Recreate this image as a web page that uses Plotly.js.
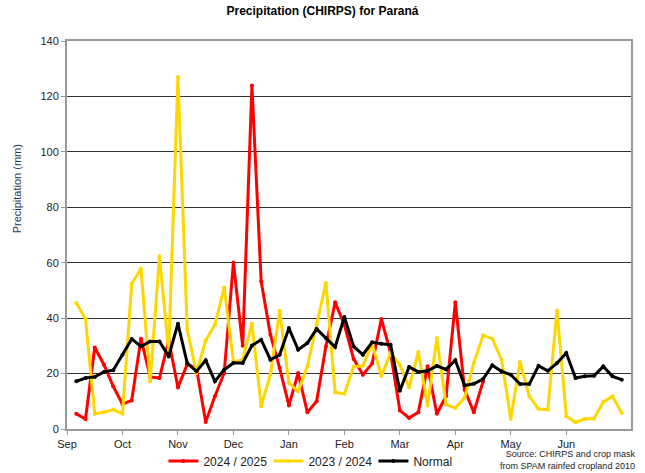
<!DOCTYPE html>
<html>
<head>
<meta charset="utf-8">
<script src="https://cdn.plot.ly/plotly-3.0.1.min.js"></script>
<style>html,body{margin:0;padding:0;background:#fff}#chart{width:645px;height:473px}</style>
</head>
<body>
<div id="chart"></div>
<script>
// Pentad index (1 = first pentad of September)
const monthLabels = ["Sep","Oct","Nov","Dec","Jan","Feb","Mar","Apr","May","Jun"];
const monthTickPos = [0,6,12,18,24,30,36,42,48,54];

const season2425 = [5.5,3.6,29.4,23.2,15.4,9.0,10.3,32.6,18.8,18.4,
  32.0,15.0,23.3,22.0,2.5,11.8,20.2,60.1,30.0,123.9,
  53.3,34.0,22.0,8.5,20.2,6.0,10.0,29.8,45.7,37.6,
  25.3,19.6,23.6,39.7,27.4,6.7,4.0,6.0,22.6,5.5,
  11.8,45.7,14.2,6.0,17.2];

const season2324 = [45.5,39.8,5.5,6.0,7.0,5.5,52.4,57.8,17.2,62.3,
  28.0,127.0,35.9,20.2,32.0,37.6,51.1,24.2,25.0,38.0,
  8.2,19.6,42.7,16.6,13.6,22.6,37.6,52.7,13.2,12.7,
  22.5,22.8,30.8,19.1,27.4,23.2,15.0,27.8,8.5,32.8,
  8.8,7.6,11.2,23.8,33.8,32.6,25.0,3.7,24.2,11.8,
  7.2,7.0,42.8,4.6,2.4,3.7,3.7,9.7,11.8,5.8];

const normal = [17.2,18.4,18.8,20.6,21.2,26.8,32.5,29.8,31.6,31.6,
  26.2,38.0,23.8,20.8,24.8,17.2,21.4,23.8,23.8,30.1,
  32.2,25.0,26.8,36.4,28.6,31.0,36.1,32.8,29.6,40.4,
  29.8,26.8,31.3,30.8,30.4,13.8,22.4,20.6,21.0,22.8,
  21.5,24.8,15.7,16.3,18.0,23.0,20.8,19.6,16.2,16.2,
  22.8,21.0,23.8,27.4,18.4,19.0,19.2,22.6,19.0,17.8];

function idx(arr){ const o=[]; for(let i=0;i<arr.length;i++) o.push(i+1); return o; }

const traces = [
  {x: idx(season2425), y: season2425, name: "2024 / 2025", mode: "lines+markers",
   line: {color: "#FF0000", width: 3}, marker: {color: "#FF0000", size: 4}, legendrank: 1},
  {x: idx(season2324), y: season2324, name: "2023 / 2024", mode: "lines+markers",
   line: {color: "#FFD700", width: 3}, marker: {color: "#FFD700", size: 4}, legendrank: 2},
  {x: idx(normal), y: normal, name: "Normal", mode: "lines+markers",
   line: {color: "#000000", width: 3}, marker: {color: "#000000", size: 4}, legendrank: 3}
];

const layout = {
  width: 645, height: 473,
  margin: {l: 67, r: 14, t: 41, b: 44, autoexpand: false},
  paper_bgcolor: "#fff", plot_bgcolor: "#fff",
  font: {family: "Liberation Sans, Arial, sans-serif", size: 11, color: "#222"},
  title: {text: "<b>Precipitation (CHIRPS) for Paraná</b>", x: 0.5, xanchor: "center",
          y: 0.978, yanchor: "middle", font: {size: 12, color: "#000"}},
  xaxis: {range: [0, 61], tickvals: monthTickPos, ticktext: monthLabels,
          showgrid: false, zeroline: false, showline: true, linecolor: "#999", linewidth: 2,
          mirror: true, ticks: "outside", ticklen: 4, tickcolor: "#999", tickwidth: 1,
          tickfont: {size: 11, color: "#222"}, fixedrange: true},
  yaxis: {range: [0, 140], tickvals: [0,20,40,60,80,100,120,140],
          showgrid: true, gridcolor: "#333", gridwidth: 1, zeroline: false,
          showline: true, linecolor: "#999", linewidth: 2, mirror: true,
          ticks: "outside", ticklen: 4, tickcolor: "#999", tickwidth: 1,
          tickfont: {size: 11, color: "#222"}, fixedrange: true},
  showlegend: true,
  legend: {orientation: "h", x: 0.171, xanchor: "left", y: -0.045, yanchor: "top",
           font: {size: 12, color: "#222"}, entrywidth: 60, entrywidthmode: "pixels",
           bgcolor: "rgba(0,0,0,0)"},
  annotations: [
    {text: "Precipitation (mm)", textangle: -90, xref: "paper", yref: "paper",
     x: -0.087, y: 0.62, xanchor: "center", yanchor: "middle", showarrow: false,
     font: {size: 11, color: "#1F3A5F"}},
    {text: "Source: CHIRPS and crop mask<br>from SPAM rainfed cropland 2010", align: "right",
     xref: "paper", yref: "paper", x: 1.01, y: -0.046, xanchor: "right", yanchor: "top",
     showarrow: false, font: {size: 9, color: "#222"}}
  ]
};

Plotly.newPlot("chart", traces, layout, {displayModeBar: false, staticPlot: true});
</script>
</body>
</html>
